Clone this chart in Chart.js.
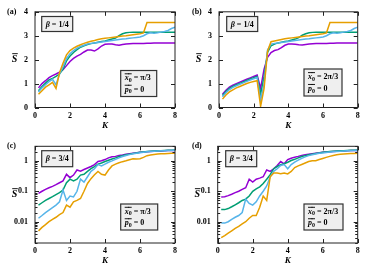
<!DOCTYPE html>
<html><head><meta charset="utf-8">
<script src="https://cdn.jsdelivr.net/npm/chart.js@4.4.1/dist/chart.umd.min.js"></script>
<style>
html,body{margin:0;padding:0;background:#fff;}
#wrap{position:relative;width:374px;height:267px;overflow:hidden;}
canvas{position:absolute;}
</style></head><body><div id="wrap">
<canvas id="ca" width="187" height="133" style="left:0;top:0"></canvas>
<canvas id="cb" width="187" height="133" style="left:187px;top:0"></canvas>
<canvas id="cc" width="187" height="134" style="left:0;top:133px"></canvas>
<canvas id="cd" width="187" height="134" style="left:187px;top:133px"></canvas>
</div>
<script>
// ---------- data ----------
const K = [0.2,0.4,0.6,0.8,1.0,1.2,1.4,1.6,1.8,2.0,2.2,2.4,2.6,2.8,3.0,3.2,3.4,3.6,3.8,4.0,
           4.2,4.4,4.6,4.8,5.0,5.2,5.4,5.6,5.8,6.0,6.2,6.4,6.6,6.8,7.0,7.2,7.4,7.6,7.8,8.0];
const xTicks = [0,2,4,6,8];
const yTicksLin = [0,1,2,3,4];
const yTicksLog = [0.01,0.1,1];
const yTickLabelsLog = ['0.01','0.1','1'];

// (a) beta=1/4, x0=pi/3
const purpleA = [0.82,1.00,1.12,1.25,1.33,1.40,1.48,1.58,1.75,1.92,2.05,2.15,2.22,2.32,2.40,2.40,2.36,2.45,2.57,2.64,
                 2.65,2.65,2.62,2.60,2.63,2.65,2.66,2.67,2.67,2.68,2.68,2.69,2.69,2.70,2.70,2.70,2.70,2.70,2.70,2.70];
const greenA  = [0.70,0.88,1.02,1.15,1.22,1.30,1.40,1.60,1.95,2.15,2.30,2.42,2.52,2.58,2.63,2.67,2.70,2.73,2.76,2.78,
                 2.82,2.86,2.90,3.00,3.08,3.12,3.14,3.15,3.15,3.15,3.15,3.15,3.15,3.15,3.15,3.15,3.15,3.15,3.15,3.15];
const blueA   = [0.65,0.82,0.95,1.08,1.18,0.95,1.40,1.70,2.05,2.25,2.38,2.48,2.55,2.60,2.65,2.68,2.70,2.72,2.74,2.76,
                 2.78,2.80,2.82,2.84,2.86,2.87,2.89,2.91,2.93,2.95,3.00,3.08,3.12,3.10,3.12,3.15,3.18,3.22,3.30,3.36];
const orangeA = [0.55,0.70,0.85,0.95,1.05,0.80,1.45,1.85,2.20,2.38,2.48,2.56,2.62,2.68,2.73,2.77,2.80,2.84,2.87,2.89,
                 2.91,2.93,2.95,2.97,2.99,3.00,3.02,3.04,3.06,3.08,3.12,3.55,3.55,3.55,3.55,3.55,3.55,3.55,3.55,3.55];
// (b) beta=1/4, x0=2pi/3
const purpleB = [0.55,0.72,0.85,0.93,1.00,1.06,1.12,1.18,1.24,1.30,1.36,0.80,1.60,2.10,2.30,2.38,2.42,2.50,2.60,2.65,
                 2.65,2.64,2.62,2.61,2.63,2.65,2.66,2.67,2.67,2.68,2.68,2.69,2.69,2.70,2.70,2.70,2.70,2.70,2.70,2.70];
const greenB  = [0.50,0.67,0.80,0.88,0.95,1.01,1.07,1.13,1.19,1.25,1.30,0.55,1.30,2.30,2.58,2.65,2.70,2.73,2.76,2.78,
                 2.82,2.86,2.92,3.02,3.08,3.12,3.14,3.15,3.15,3.15,3.15,3.15,3.15,3.15,3.15,3.15,3.15,3.15,3.15,3.15];
const blueB   = [0.45,0.62,0.75,0.84,0.91,0.97,1.03,1.09,1.15,1.20,1.25,0.30,1.00,2.40,2.65,2.68,2.70,2.72,2.74,2.76,
                 2.78,2.80,2.82,2.84,2.86,2.87,2.89,2.91,2.93,2.95,3.00,3.08,3.12,3.10,3.12,3.15,3.18,3.22,3.30,3.36];
const orangeB = [0.35,0.52,0.65,0.74,0.82,0.88,0.94,1.00,1.05,1.09,1.12,0.05,0.80,2.35,2.75,2.78,2.81,2.84,2.87,2.89,
                 2.91,2.93,2.95,2.97,2.99,3.00,3.02,3.04,3.06,3.08,3.12,3.55,3.55,3.55,3.55,3.55,3.55,3.55,3.55,3.55];
// (c) beta=3/4, x0=pi/3
const purpleC = [0.085,0.10,0.115,0.13,0.145,0.165,0.19,0.22,0.36,0.28,0.34,0.50,0.46,0.52,0.58,0.65,0.75,0.95,1.00,1.10,
                 1.25,1.35,1.40,1.50,1.55,1.65,1.72,1.78,1.84,1.90,1.95,2.00,2.03,2.06,2.10,2.12,2.15,2.17,2.19,2.20];
const greenC  = [0.035,0.042,0.05,0.058,0.067,0.078,0.09,0.11,0.19,0.25,0.22,0.25,0.34,0.36,0.45,0.55,0.65,0.78,0.85,0.95,
                 1.05,1.15,1.25,1.38,1.48,1.58,1.66,1.74,1.82,1.90,1.96,2.02,2.06,2.10,2.13,2.16,2.19,2.21,2.23,2.25];
const blueC   = [0.013,0.016,0.02,0.024,0.029,0.035,0.045,0.11,0.05,0.07,0.065,0.10,0.25,0.20,0.30,0.45,0.55,0.75,0.68,0.78,
                 0.90,1.00,1.12,1.25,1.38,1.50,1.60,1.70,1.78,1.85,1.92,1.98,2.02,2.06,2.10,2.13,2.16,2.18,2.20,2.22];
const orangeC = [0.005,0.0065,0.008,0.010,0.012,0.014,0.017,0.020,0.035,0.030,0.045,0.050,0.058,0.10,0.18,0.26,0.35,0.45,0.36,0.34,
                 0.50,0.68,0.78,0.86,0.94,1.00,1.08,1.16,1.15,1.18,1.30,1.48,1.55,1.62,1.67,1.70,1.72,1.74,1.76,1.78];
// (d) beta=3/4, x0=2pi/3
const purpleD = [0.065,0.066,0.072,0.08,0.09,0.10,0.115,0.13,0.25,0.20,0.25,0.27,0.30,0.50,0.45,0.55,0.70,0.95,0.80,1.10,
                 1.22,1.32,1.40,1.50,1.58,1.66,1.72,1.78,1.84,1.90,1.95,2.00,2.03,2.06,2.10,2.12,2.15,2.17,2.19,2.20];
const greenD  = [0.025,0.025,0.027,0.031,0.036,0.042,0.05,0.055,0.07,0.10,0.12,0.14,0.18,0.25,0.35,0.55,0.65,0.75,0.80,0.90,
                 1.02,1.12,1.25,1.38,1.48,1.58,1.66,1.74,1.82,1.90,1.96,2.02,2.06,2.10,2.13,2.16,2.19,2.21,2.23,2.25];
const blueD   = [0.009,0.009,0.010,0.012,0.014,0.016,0.020,0.055,0.040,0.035,0.045,0.07,0.10,0.15,0.30,0.45,0.55,0.70,0.75,0.55,
                 0.75,0.90,1.05,1.20,1.35,1.48,1.58,1.68,1.76,1.82,1.88,1.94,1.98,2.02,2.06,2.10,2.13,2.16,2.18,2.20];
const orangeD = [0.003,0.0035,0.0042,0.005,0.006,0.007,0.0085,0.010,0.013,0.016,0.016,0.030,0.070,0.050,0.30,0.40,0.40,0.38,0.40,0.37,
                 0.45,0.60,0.68,0.76,0.85,0.95,1.00,1.00,1.10,1.20,1.30,1.40,1.50,1.58,1.64,1.68,1.71,1.73,1.75,1.77];

// ---------- styling ----------
const COLORS = ['#9400D3','#009E73','#56B4E9','#E69F00'];
const SERIF = '"Liberation Serif","DejaVu Serif",serif';
const font = (size, italic) => (italic ? 'italic ' : '') + 'bold ' + size + 'px ' + SERIF;

function drawRich(ctx, x, y, parts, align) {
  let total = 0;
  parts.forEach(p => { ctx.font = p.font; p.w = ctx.measureText(p.t).width; total += p.w; });
  let cx = align === 'center' ? x - total / 2 : x;
  ctx.textBaseline = 'middle'; ctx.textAlign = 'left'; ctx.fillStyle = '#000';
  parts.forEach(p => {
    ctx.font = p.font;
    const yy = y + (p.sub || 0);
    ctx.fillText(p.t, cx, yy);
    if (p.over) {
      ctx.strokeStyle = '#000'; ctx.lineWidth = 0.9;
      ctx.beginPath(); ctx.moveTo(cx + p.over[0], yy - p.over[2]); ctx.lineTo(cx + p.w + p.over[1], yy - p.over[2]); ctx.stroke();
    }
    cx += p.w;
  });
}

const decor = {
  id: 'decor',
  afterDatasetsDraw(chart, args, o) {
    const ctx = chart.ctx, a = chart.chartArea;
    const xs = chart.scales.x, ys = chart.scales.y;
    ctx.save();
    // frame
    ctx.strokeStyle = '#222'; ctx.lineWidth = 1;
    ctx.strokeRect(a.left, a.top, a.right - a.left, a.bottom - a.top);
    // inward ticks (mirrored)
    ctx.beginPath();
    xTicks.forEach(v => { const px = Math.round(xs.getPixelForValue(v)) + 0.5;
      ctx.moveTo(px, a.bottom); ctx.lineTo(px, a.bottom - 4);
      ctx.moveTo(px, a.top); ctx.lineTo(px, a.top + 4); });
    const yt = o.log ? yTicksLog : yTicksLin;
    yt.forEach(v => { const py = Math.round(ys.getPixelForValue(v)) + 0.5;
      ctx.moveTo(a.left, py); ctx.lineTo(a.left + 4, py);
      ctx.moveTo(a.right, py); ctx.lineTo(a.right - 4, py); });
    if (o.log) {
      [0.001, 0.01, 0.1, 1].forEach(d => { for (let m = 2; m <= 9; m++) { const v = d * m;
        if (v < ys.min || v > ys.max) continue;
        const py = Math.round(ys.getPixelForValue(v)) + 0.5;
        ctx.moveTo(a.left, py); ctx.lineTo(a.left + 2.5, py);
        ctx.moveTo(a.right, py); ctx.lineTo(a.right - 2.5, py); } });
    }
    ctx.stroke();
    // panel label
    ctx.fillStyle = '#000'; ctx.font = font(8, false); ctx.textBaseline = 'middle'; ctx.textAlign = 'left';
    ctx.fillText(o.label, o.labelPos[0], o.labelPos[1]);
    // axis titles
    drawRich(ctx, (a.left + a.right) / 2, a.bottom + 18, [{t: 'K', font: font(9, true)}], 'center');
    drawRich(ctx, a.left - 20.5, (a.top + a.bottom) / 2, [{t: 'S', font: font(10, true), over: [0.5, 0.5, 6]}], 'center');
    // boxes
    const box = (r) => { ctx.fillStyle = '#efefef'; ctx.fillRect(r[0], r[1], r[2], r[3]);
      ctx.strokeStyle = '#333'; ctx.lineWidth = 1.2; ctx.strokeRect(r[0], r[1], r[2], r[3]); };
    box(o.betaBox);
    drawRich(ctx, o.betaBox[0] + o.betaBox[2] / 2, o.betaBox[1] + o.betaBox[3] / 2 + 0.5,
      [{t: 'β', font: font(8, true)}, {t: ' = ' + o.beta, font: font(8, false)}], 'center');
    box(o.x0Box);
    const bx = o.x0Box[0] + 4, by = o.x0Box[1];
    drawRich(ctx, bx, by + o.x0Box[3] * 0.3,
      [{t: 'x', font: font(8, true), over: [0, 0.5, 4.5]}, {t: '0', font: font(6, false), sub: 2, over: [-0.5, 0, 6.5]},
       {t: ' = ' + o.x0, font: font(8, false)}], 'left');
    drawRich(ctx, bx, by + o.x0Box[3] * 0.74,
      [{t: 'p', font: font(8, true), over: [0, 0.5, 4.5]}, {t: '0', font: font(6, false), sub: 2, over: [-0.5, 0, 6.5]},
       {t: ' = 0', font: font(8, false)}], 'left');
    ctx.restore();
  }
};

function makeChart(id, series, log, geo, deco) {
  const datasets = series.map((s, i) => ({
    data: K.map((k, j) => ({x: k, y: s[j]})),
    borderColor: COLORS[i], borderWidth: 1.5, pointRadius: 0, tension: 0, fill: false,
    order: 3 - i
  }));
  const fontTick = {family: SERIF, size: 8, weight: 'bold'};
  return new Chart(document.getElementById(id), {
    type: 'line',
    data: {datasets},
    plugins: [decor],
    options: {
      responsive: false, animation: false, devicePixelRatio: 1,
      layout: {padding: {left: 0, right: geo.padR, top: geo.padT, bottom: 0}},
      plugins: {legend: {display: false}, tooltip: {enabled: false}, decor: deco},
      scales: {
        x: {type: 'linear', min: 0, max: 8,
            grid: {display: false, drawTicks: false}, border: {display: false},
            afterBuildTicks: s => { s.ticks = xTicks.map(v => ({value: v})); },
            afterFit: s => { s.height = geo.xH; },
            ticks: {font: fontTick, color: '#000', padding: geo.xPad, maxRotation: 0, callback: v => String(v)}},
        y: log ? {type: 'logarithmic', min: 0.002, max: 3,
            grid: {display: false, drawTicks: false}, border: {display: false},
            afterBuildTicks: s => { s.ticks = yTicksLog.map(v => ({value: v})); },
            afterFit: s => { s.width = geo.yW; },
            ticks: {font: fontTick, color: '#000', padding: 7,
                    callback: v => { const i = yTicksLog.findIndex(t => Math.abs(t - v) < 1e-9); return i >= 0 ? yTickLabelsLog[i] : ''; }}}
          : {type: 'linear', min: 0, max: 4,
            grid: {display: false, drawTicks: false}, border: {display: false},
            afterBuildTicks: s => { s.ticks = yTicksLin.map(v => ({value: v})); },
            afterFit: s => { s.width = geo.yW; },
            ticks: {font: fontTick, color: '#000', padding: 7, callback: v => String(v)}}
      }
    }
  });
}

makeChart('ca', [purpleA, greenA, blueA, orangeA], false,
  {yW: 35, padR: 12, padT: 11, xH: 25.5, xPad: 4},
  {log: false, label: '(a)', labelPos: [7, 12], beta: '1/4', x0: 'π/3',
   betaBox: [41.7, 16.5, 31, 15], x0Box: [120.7, 70.5, 36, 26]});
makeChart('cb', [purpleB, greenB, blueB, orangeB], false,
  {yW: 32, padR: 16.3, padT: 11, xH: 25.5, xPad: 4},
  {log: false, label: '(b)', labelPos: [5, 12], beta: '1/4', x0: '2π/3',
   betaBox: [39.7, 16.5, 31, 15], x0Box: [117, 69, 38, 27]});
makeChart('cc', [purpleC, greenC, blueC, orangeC], true,
  {yW: 35, padR: 12, padT: 13.3, xH: 24, xPad: 3},
  {log: true, label: '(c)', labelPos: [7, 13], beta: '3/4', x0: 'π/3',
   betaBox: [41.7, 17.7, 31, 16], x0Box: [120.7, 71, 37, 26]});
makeChart('cd', [purpleD, greenD, blueD, orangeD], true,
  {yW: 30.7, padR: 16.3, padT: 13.3, xH: 24, xPad: 3},
  {log: true, label: '(d)', labelPos: [5, 13], beta: '3/4', x0: '2π/3',
   betaBox: [38.7, 17.7, 31, 16], x0Box: [117, 71, 39, 26]});
</script></body></html>
